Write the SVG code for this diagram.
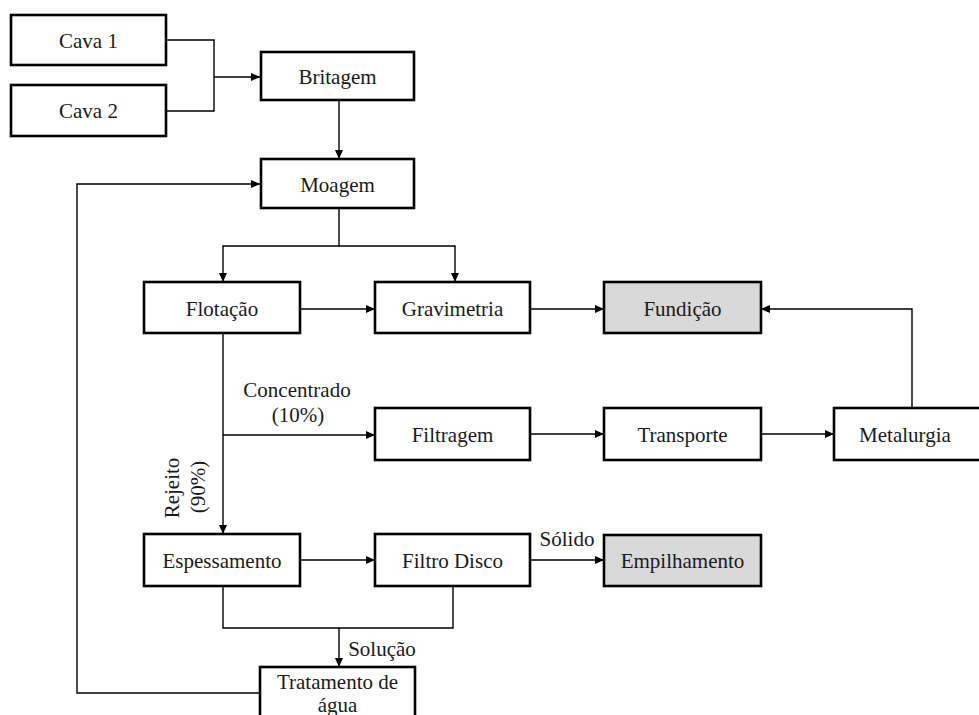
<svg xmlns="http://www.w3.org/2000/svg" width="979" height="715" viewBox="0 0 979 715">
<style>
.box{fill:#fff;stroke:#000;stroke-width:2.6}
.gray{fill:#d9d9d9}
text{font-family:"Times New Roman","Liberation Serif",Tinos,serif;font-size:21px;fill:#1a1a1a;text-anchor:middle}
.c{fill:none;stroke:#000;stroke-width:1.4}
</style>
<defs>
<marker id="a" markerWidth="9" markerHeight="8" refX="9" refY="4" orient="auto" markerUnits="userSpaceOnUse">
<path d="M0,0 L9,4 L0,8 Z" fill="#000"/>
</marker>
</defs>
<rect width="979" height="715" fill="#fff"/>
<g id="connectors">
<path class="c" d="M166,40 H214 V111 H166"/>
<path class="c" d="M214,77 H260" marker-end="url(#a)"/>
<path class="c" d="M339,100 V159" marker-end="url(#a)"/>
<path class="c" d="M339,208 V246 H223 V282" marker-end="url(#a)"/>
<path class="c" d="M339,246 H455 V282" marker-end="url(#a)"/>
<path class="c" d="M300,309 H375" marker-end="url(#a)"/>
<path class="c" d="M530,309 H604" marker-end="url(#a)"/>
<path class="c" d="M912,408 V309 H761" marker-end="url(#a)"/>
<path class="c" d="M223,333 V534" marker-end="url(#a)"/>
<path class="c" d="M223,435 H375" marker-end="url(#a)"/>
<path class="c" d="M530,434 H604" marker-end="url(#a)"/>
<path class="c" d="M761,434 H834" marker-end="url(#a)"/>
<path class="c" d="M300,560 H375" marker-end="url(#a)"/>
<path class="c" d="M530,560 H604" marker-end="url(#a)"/>
<path class="c" d="M223,586 V628 H453 V586"/>
<path class="c" d="M339,628 V667" marker-end="url(#a)"/>
<path class="c" d="M260,693 H77 V184 H260" marker-end="url(#a)"/>
</g>
<g id="labels">
<text x="297" y="397">Concentrado</text>
<text x="298" y="422">(10%)</text>
<text transform="translate(179,488) rotate(-90)">Rejeito</text>
<text transform="translate(205,487) rotate(-90)">(90%)</text>
<text x="567" y="546">Sólido</text>
<text x="382" y="656">Solução</text>
</g>
<g id="cava1"><rect class="box" x="11" y="15" width="155" height="50"/><text x="88.5" y="48">Cava 1</text></g>
<g id="cava2"><rect class="box" x="11" y="85" width="155" height="51"/><text x="88.5" y="118">Cava 2</text></g>
<g id="britagem"><rect class="box" x="261" y="52" width="153" height="48"/><text x="337.5" y="84">Britagem</text></g>
<g id="moagem"><rect class="box" x="261" y="159" width="153" height="49"/><text x="337.5" y="192">Moagem</text></g>
<g id="flotacao"><rect class="box" x="144" y="282" width="156" height="51"/><text x="222" y="316">Flotação</text></g>
<g id="gravimetria"><rect class="box" x="375" y="282" width="155" height="51"/><text x="452.5" y="316">Gravimetria</text></g>
<g id="fundicao"><rect class="box gray" x="604" y="282" width="157" height="51"/><text x="682.5" y="316">Fundição</text></g>
<g id="filtragem"><rect class="box" x="375" y="408" width="155" height="52"/><text x="452.5" y="442">Filtragem</text></g>
<g id="transporte"><rect class="box" x="604" y="408" width="157" height="52"/><text x="682.5" y="442">Transporte</text></g>
<g id="metalurgia"><rect class="box" x="834" y="408" width="150" height="52"/><text x="905" y="442">Metalurgia</text></g>
<g id="espessamento"><rect class="box" x="144" y="534" width="156" height="52"/><text x="222" y="568">Espessamento</text></g>
<g id="filtrodisco"><rect class="box" x="375" y="534" width="155" height="52"/><text x="452.5" y="568">Filtro Disco</text></g>
<g id="empilhamento"><rect class="box gray" x="604" y="535" width="157" height="51"/><text x="682.5" y="568">Empilhamento</text></g>
<g id="tratamento"><rect class="box" x="260" y="667" width="155" height="60"/><text x="337.5" y="689">Tratamento de</text><text x="337.5" y="712">água</text></g>
</svg>
